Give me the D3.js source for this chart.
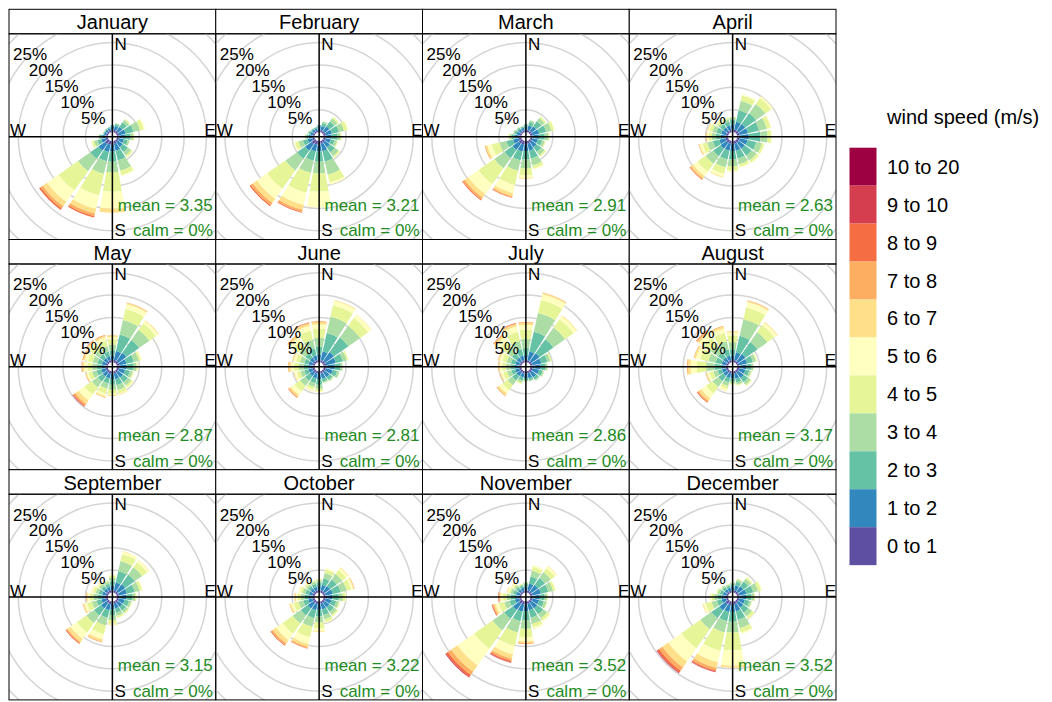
<!DOCTYPE html>
<html lang="en">
<head>
<meta charset="UTF-8">
<title>Wind rose by month</title>
<script src="https://cdn.jsdelivr.net/npm/d3@7"></script>
<style>
  body { margin: 0; background: #fff; }
  text { font-family: 'Liberation Sans', Arial, sans-serif; }
</style>
</head>
<body>
<script>

const months = ["January", "February", "March", "April", "May", "June",
                "July", "August", "September", "October", "November", "December"];

// petal directions, N clockwise
const directions = [0, 22.5, 45, 67.5, 90, 112.5, 135, 157.5,
                    180, 202.5, 225, 247.5, 270, 292.5, 315, 337.5];
const compass = ["N", "E", "S", "W"];

const speedBins = ["0 to 1", "1 to 2", "2 to 3", "3 to 4", "4 to 5", "5 to 6",
                   "6 to 7", "7 to 8", "8 to 9", "9 to 10", "10 to 20"];
const palette = ["#5E4FA2", "#3288BD", "#66C2A5", "#ABDDA4", "#E6F598", "#FFFFBF",
                 "#FEE08B", "#FDAE61", "#F46D43", "#D53E4F", "#9E0142"];

const pctLabels = [5, 10, 15, 20, 25];
const pctRings = [5, 10, 15, 20, 25, 30, 35];

const meanSpeed = [3.35, 3.21, 2.91, 2.63, 2.87, 2.81, 2.86, 3.17, 3.15, 3.22, 3.52, 3.52];
const calmPct = [0, 0, 0, 0, 0, 0, 0, 0, 0, 0, 0, 0];

// frequency (%) per speed bin, one row per direction (N .. NNW)
const jan = [
  [0.5,0.8,0.3], [0.5,0.9,0.5,0.2], [0.5,1.2,1.2,0.7,0.3], [0.5,1.5,1.8,1.5,0.9,0.3],
  [0.5,1.3,1.2,0.6,0.3], [0.5,1.1,0.9,0.4,0.1], [0.5,1.3,1.4,0.9,0.5], [0.6,1.6,2.2,2.4,1.0,0.2],
  [0.8,1.5,2.3,2.4,4.3,3.8,0.9], [0.8,1.7,2.1,2.9,4.9,3.1,1.1,0.6,0.3], [1.0,1.8,2.2,3.4,5.3,3.1,1.2,0.6,0.4], [0.5,1.0,0.9,0.8,0.5,0.1],
  [0.5,0.8,0.5,0.2,0.1], [0.4,0.5,0.2,0.1], [0.4,0.5,0.2,0.1], [0.4,0.5,0.3]
];
const feb = [
  [0.5,0.8,0.3], [0.5,0.9,0.7,0.4], [0.5,1.3,1.3,0.9,0.4], [0.5,1.4,1.6,1.2,0.8,0.2],
  [0.5,1.3,1.2,0.7,0.3], [0.5,1.1,0.9,0.6,0.2], [0.5,1.4,1.4,1.0,0.4,0.1], [0.6,1.7,2.4,3.0,1.8,0.5],
  [0.8,1.5,2.3,2.6,4.1,3.5], [0.8,1.6,2.1,2.8,4.5,2.8,1.1,0.5,0.2], [1.0,1.8,2.2,3.2,5.0,2.8,1.1,0.6,0.3], [0.5,1.1,1.1,1.0,0.8,0.3],
  [0.5,0.8,0.5,0.3,0.1], [0.4,0.6,0.4,0.2], [0.4,0.5,0.3,0.1], [0.4,0.5,0.3]
];
const mar = [
  [0.5,0.8,0.4], [0.5,1.0,0.8,0.4], [0.5,1.3,1.4,0.9,0.4], [0.5,1.5,1.6,1.2,0.6,0.2],
  [0.5,1.4,1.3,0.8,0.3], [0.5,1.2,1.0,0.6,0.2], [0.5,1.4,1.3,0.9,0.4], [0.6,1.6,1.8,1.6,0.7,0.2],
  [0.7,1.5,1.9,2.0,1.5,0.6,0.2], [0.8,1.6,2.0,2.4,3.2,1.9,0.7,0.3,0.1], [0.9,1.7,2.2,2.8,4.4,2.7,1.0,0.5,0.2], [0.6,1.3,1.5,1.6,1.8,1.0,0.4,0.2],
  [0.5,0.9,0.7,0.5,0.3,0.1], [0.4,0.7,0.5,0.3,0.1], [0.4,0.6,0.4,0.2], [0.4,0.6,0.3,0.1]
];
const apr = [
  [0.5,1.2,1.0,0.5,0.2], [0.6,1.8,2.6,2.2,1.2,0.3], [0.6,1.8,3.0,2.5,1.6,0.5], [0.6,1.9,2.5,1.8,0.9,0.2],
  [0.6,2.0,2.6,1.6,0.8,0.1], [0.6,1.8,2.0,1.3,0.5,0.1], [0.6,1.7,1.9,1.3,0.6,0.2], [0.6,1.6,1.8,1.3,0.6,0.2],
  [0.6,1.6,1.9,1.5,0.9,0.3], [0.6,1.6,2.0,1.8,1.5,0.7,0.2], [0.7,1.6,2.0,2.1,2.2,1.2,0.6,0.3,0.1], [0.6,1.4,1.5,1.3,1.1,0.6,0.2,0.1],
  [0.5,1.1,1.1,0.9,0.7,0.4,0.2,0.1], [0.5,1.1,1.1,0.9,0.7,0.3,0.2], [0.5,1.0,0.9,0.6,0.4,0.2,0.1], [0.5,1.0,0.9,0.6,0.3,0.1]
];
const may = [
  [0.5,1.0,1.2,1.2,1.2,0.6,0.3,0.1], [0.6,2.0,3.8,3.3,2.5,1.1,0.3,0.1], [0.6,2.2,3.5,2.8,1.8,0.6,0.2], [0.6,1.6,1.7,1.1,0.5,0.2],
  [0.6,1.6,1.4,0.8,0.3,0.1], [0.5,1.4,1.1,0.6,0.3], [0.5,1.4,1.3,0.9,0.5,0.2], [0.5,1.3,1.4,1.1,0.7,0.3,0.1],
  [0.5,1.2,1.3,1.1,0.8,0.4,0.2], [0.5,1.1,1.2,1.2,1.1,0.6,0.3,0.1], [0.5,1.1,1.4,1.6,2.0,1.6,0.9,0.5,0.2,0.1], [0.5,1.0,1.1,1.0,0.9,0.4,0.2,0.1],
  [0.5,0.9,1.0,1.1,1.1,0.7,0.4,0.15,0.05], [0.5,0.9,1.0,1.1,1.1,0.7,0.4,0.2], [0.5,0.9,1.1,1.2,1.2,0.8,0.4,0.15,0.05], [0.5,0.9,1.1,1.2,1.2,0.8,0.4,0.2]
];
const jun = [
  [0.5,1.2,1.8,2.0,2.0,1.0,0.5,0.2], [0.5,2.0,4.2,3.8,2.6,1.0,0.2], [0.6,2.4,4.0,3.2,2.2,0.8,0.1], [0.6,2.2,1.6,0.9,0.4],
  [0.6,1.9,1.2,0.5,0.1], [0.5,1.6,1.0,0.5,0.1], [0.5,1.3,0.8,0.3,0.1], [0.5,1.2,0.7,0.3,0.1],
  [0.5,1.3,1.2,0.9,0.5,0.2], [0.5,1.1,1.1,0.9,0.6,0.3,0.1], [0.5,1.0,1.3,1.4,1.5,1.0,0.5,0.2,0.1], [0.5,0.9,1.0,0.9,0.8,0.5,0.2],
  [0.5,0.9,1.0,1.1,1.1,0.7,0.4,0.2], [0.5,0.9,1.0,1.0,0.9,0.6,0.3], [0.5,1.0,1.3,1.6,1.6,1.0,0.5,0.2], [0.5,1.1,1.6,2.0,2.1,1.1,0.5,0.2,0.1]
];
const jul = [
  [0.5,1.1,1.6,2.0,2.1,1.1,0.4,0.2], [0.5,2.0,4.5,4.3,3.0,1.3,0.3,0.1], [0.5,2.2,3.8,3.2,2.3,0.8,0.2], [0.5,2.0,1.4,0.7,0.3],
  [0.5,1.8,1.0,0.5,0.1], [0.5,1.5,0.8,0.3,0.1], [0.5,1.3,0.7,0.3], [0.5,1.1,0.5,0.2],
  [0.5,1.0,0.5,0.2,0.1], [0.5,0.9,0.7,0.5,0.3,0.1], [0.5,1.0,1.2,1.3,1.4,0.9,0.5,0.2], [0.5,0.9,0.9,1.0,0.9,0.5,0.2,0.1],
  [0.5,0.9,1.0,1.0,0.9,0.5,0.3,0.1], [0.5,0.9,1.0,1.0,1.0,0.6,0.3,0.1], [0.5,1.0,1.3,1.6,1.7,1.0,0.5,0.2,0.1], [0.5,1.0,1.5,1.9,2.1,1.2,0.5,0.2,0.1]
];
const aug = [
  [0.5,1.0,1.4,1.6,1.5,0.7,0.3], [0.5,1.8,3.8,3.8,2.7,1.2,0.3,0.1], [0.5,2.0,3.3,2.7,1.9,0.7,0.2], [0.5,1.8,1.3,0.7,0.3,0.1],
  [0.5,1.6,1.0,0.5,0.1], [0.5,1.4,0.9,0.4,0.2], [0.5,1.5,1.2,0.7,0.3,0.1], [0.5,1.2,0.9,0.5,0.2,0.1],
  [0.5,1.0,0.7,0.5,0.2,0.1], [0.5,1.0,1.0,0.9,0.7,0.4,0.1], [0.5,1.0,1.4,1.6,1.8,1.3,0.7,0.3,0.2], [0.5,0.9,1.0,1.0,0.9,0.6,0.2,0.1],
  [0.5,1.0,1.5,1.9,2.1,1.4,0.6,0.2], [0.5,1.0,1.4,1.7,1.8,1.0,0.4,0.1], [0.5,1.0,1.5,1.9,2.0,1.2,0.5,0.3,0.1], [0.5,1.0,1.5,1.8,1.9,1.0,0.5,0.2]
];
const sep = [
  [0.5,1.0,1.0,0.8,0.5,0.2], [0.5,1.8,2.6,2.3,1.6,0.6,0.1], [0.5,2.0,2.6,2.0,1.4,0.5,0.1], [0.5,1.8,1.8,1.1,0.6,0.2],
  [0.5,1.6,1.3,0.7,0.3], [0.5,1.3,1.0,0.5,0.2], [0.5,1.2,1.0,0.6,0.3], [0.5,1.1,1.0,0.7,0.4,0.1],
  [0.5,1.2,1.3,1.1,0.8,0.3,0.1], [0.6,1.4,1.7,1.8,2.0,1.2,0.5,0.2], [0.6,1.5,1.9,2.1,2.6,1.8,0.8,0.3,0.2], [0.5,1.0,1.1,1.1,1.1,0.6,0.3,0.1],
  [0.5,0.9,0.9,0.9,0.8,0.5,0.3,0.1], [0.5,0.8,0.8,0.7,0.6,0.3,0.1], [0.5,0.8,0.7,0.6,0.4,0.2], [0.5,0.8,0.7,0.5,0.3,0.1]
];
const oct = [
  [0.5,0.9,0.8,0.5,0.3], [0.5,1.3,1.5,1.2,0.8,0.3], [0.5,1.5,1.8,1.5,1.1,0.5,0.2], [0.5,1.6,1.8,1.4,1.0,0.5,0.2,0.1],
  [0.5,1.5,1.4,0.9,0.5,0.2], [0.5,1.3,1.1,0.6,0.3], [0.5,1.3,1.2,0.8,0.4,0.1], [0.5,1.3,1.3,1.0,0.6,0.2],
  [0.5,1.3,1.5,1.4,1.3,0.6,0.2], [0.6,1.4,1.8,2.0,2.4,1.5,0.7,0.3,0.1], [0.6,1.5,1.9,2.2,2.8,1.8,0.9,0.4,0.2], [0.5,1.0,1.1,1.1,1.1,0.6,0.3,0.1],
  [0.5,0.9,0.9,0.8,0.7,0.4,0.2,0.1], [0.5,0.8,0.8,0.7,0.5,0.3,0.1], [0.5,0.8,0.7,0.5,0.4,0.2], [0.5,0.8,0.7,0.5,0.3,0.1]
];
const nov = [
  [0.4,0.9,0.6,0.3,0.1], [0.5,1.6,1.6,1.3,0.9,0.4], [0.5,1.8,1.9,1.6,1.1,0.5,0.1], [0.5,1.9,1.7,1.1,0.5,0.2],
  [0.5,1.6,1.1,0.5,0.2], [0.5,1.5,1.1,0.6,0.2], [0.5,1.6,1.6,1.1,0.6,0.3], [0.5,1.5,1.7,1.4,0.8,0.3,0.1],
  [0.6,1.5,2.0,2.0,1.8,1.0,0.4,0.2], [0.7,1.6,2.2,2.6,3.0,2.0,1.0,0.5,0.3,0.1], [0.8,1.7,2.4,3.2,5.0,4.6,1.7,0.9,0.5,0.2], [0.5,1.0,1.2,1.2,1.2,0.8,0.4,0.3,0.2],
  [0.5,0.9,1.0,0.9,0.8,0.5,0.3,0.2,0.1], [0.4,0.8,0.7,0.6,0.4,0.3,0.2], [0.4,0.7,0.6,0.5,0.4,0.3,0.1], [0.4,0.7,0.5,0.3,0.2]
];
const dec = [
  [0.4,0.9,0.6,0.3,0.1], [0.5,1.1,0.9,0.5,0.2], [0.5,1.4,1.3,0.8,0.4,0.1], [0.5,1.6,1.6,1.1,0.7,0.2],
  [0.5,1.5,1.2,0.6,0.2], [0.5,1.3,1.0,0.5,0.1], [0.5,1.4,1.4,1.0,0.6,0.2], [0.6,1.6,2.0,1.9,1.0,0.3],
  [0.8,1.5,2.2,2.4,4.0,3.4,0.5], [0.8,1.6,2.1,2.6,4.2,2.6,1.3,0.6,0.3,0.1], [0.9,1.7,2.2,3.0,5.2,3.6,1.6,0.9,0.5,0.2], [0.5,1.0,1.1,1.2,1.3,0.6,0.2],
  [0.5,0.9,0.9,0.8,0.6,0.3,0.1], [0.4,0.8,0.7,0.5,0.3,0.1], [0.4,0.7,0.6,0.4,0.2], [0.4,0.7,0.5,0.3,0.1]
];
const roseData = [jan, feb, mar, apr, may, jun, jul, aug, sep, oct, nov, dec];

const width = 1052;
const height = 702;
const cols = 4;
const x0 = 9, y0 = 9.3;
const colW = 206.75, rowH = 230.2, stripH = 24.5;
const panelH = rowH - stripH;
const halfWedge = 9.8;   // degrees either side of the direction

const r = d3.scaleLinear().domain([0, 25]).range([4.6, 116.5]);
const color = d3.scaleOrdinal().domain(speedBins).range(palette);
const rad = d => d * Math.PI / 180;
const arc = d3.arc();

const svg = d3.select("body").append("svg")
    .attr("width", width)
    .attr("height", height);

months.forEach((m, i) => drawPanel(m, i));

function drawPanel(month, i) {
    const g = svg.append("g")
        .attr("transform", "translate(" + [x0 + (i % cols) * colW, y0 + Math.floor(i / cols) * rowH] + ")");

    g.append("rect")
        .attr("width", colW).attr("height", stripH)
        .attr("fill", "#fff").attr("stroke", "#000");
    g.append("text")
        .attr("x", colW / 2).attr("y", 20)
        .attr("text-anchor", "middle")
        .style("font-size", "20px")
        .text(month);

    const p = g.append("g").attr("transform", "translate(0," + stripH + ")");
    svg.append("clipPath").attr("id", "clip" + i)
        .append("rect").attr("width", colW).attr("height", panelH);
    const inner = p.append("g").attr("clip-path", "url(#clip" + i + ")");

    const cx = colW / 2, cy = panelH / 2;
    const c = inner.append("g").attr("transform", "translate(" + [cx, cy] + ")");

    c.selectAll(".ring")
        .data(pctRings).enter()
        .append("circle").attr("class", "ring")
        .attr("r", d => r(d))
        .attr("fill", "none")
        .attr("stroke", "#d4d4d4")
        .attr("stroke-width", 1.5);

    roseData[i].forEach((bins, k) => {
        const dir = directions[k];
        let cum = 0;
        bins.forEach((v, b) => {
            const lo = cum;
            cum += v;
            c.append("path")
                .attr("d", arc({
                    innerRadius: r(lo), outerRadius: r(cum),
                    startAngle: rad(dir - halfWedge), endAngle: rad(dir + halfWedge)
                }))
                .attr("fill", color(speedBins[b]));
        });
    });

    inner.append("line")
        .attr("x1", 0).attr("x2", colW).attr("y1", cy).attr("y2", cy)
        .attr("stroke", "#000").attr("stroke-width", 1.5);
    inner.append("line")
        .attr("x1", cx).attr("x2", cx).attr("y1", 0).attr("y2", panelH)
        .attr("stroke", "#000").attr("stroke-width", 1.5);

    const lab = p.append("g").style("font-size", "17px");
    lab.selectAll(".pct")
        .data(pctLabels).enter()
        .append("text").attr("class", "pct")
        .attr("x", d => cx + r(d) * Math.sin(rad(315)))
        .attr("y", d => cy - r(d) * Math.cos(rad(315)))
        .attr("dy", "0.35em")
        .attr("text-anchor", "middle")
        .text(d => d + "%");

    lab.append("text").attr("x", cx + 2).attr("y", 15.8).text(compass[0]);
    lab.append("text").attr("x", colW).attr("y", cy - 0.5).attr("text-anchor", "end").text(compass[1]);
    lab.append("text").attr("x", cx + 2).attr("y", panelH - 3).text(compass[2]);
    lab.append("text").attr("x", 1).attr("y", cy - 0.5).text(compass[3]);

    lab.append("text")
        .attr("x", colW - 3).attr("y", 177)
        .attr("text-anchor", "end").attr("fill", "#228B22")
        .text("mean = " + meanSpeed[i].toFixed(2));
    lab.append("text")
        .attr("x", colW - 3).attr("y", panelH - 3)
        .attr("text-anchor", "end").attr("fill", "#228B22")
        .text("calm = " + calmPct[i] + "%");

    p.append("rect")
        .attr("width", colW).attr("height", panelH)
        .attr("fill", "none").attr("stroke", "#000");
}

// legend
const lg = svg.append("g");
lg.append("text")
    .attr("x", 887).attr("y", 124)
    .style("font-size", "20px")
    .text("wind speed (m/s)");

const boxH = 37.95;
const legendBins = speedBins.slice().reverse();
lg.selectAll(".key")
    .data(legendBins).enter()
    .append("rect").attr("class", "key")
    .attr("x", 849.5).attr("y", (d, i) => 147.7 + i * boxH)
    .attr("width", 27).attr("height", boxH)
    .attr("fill", d => color(d));
lg.selectAll(".keylab")
    .data(legendBins).enter()
    .append("text").attr("class", "keylab")
    .attr("x", 887).attr("y", (d, i) => 147.7 + (i + 0.5) * boxH + 7)
    .style("font-size", "20px")
    .text(d => d);

</script>
</body>
</html>
